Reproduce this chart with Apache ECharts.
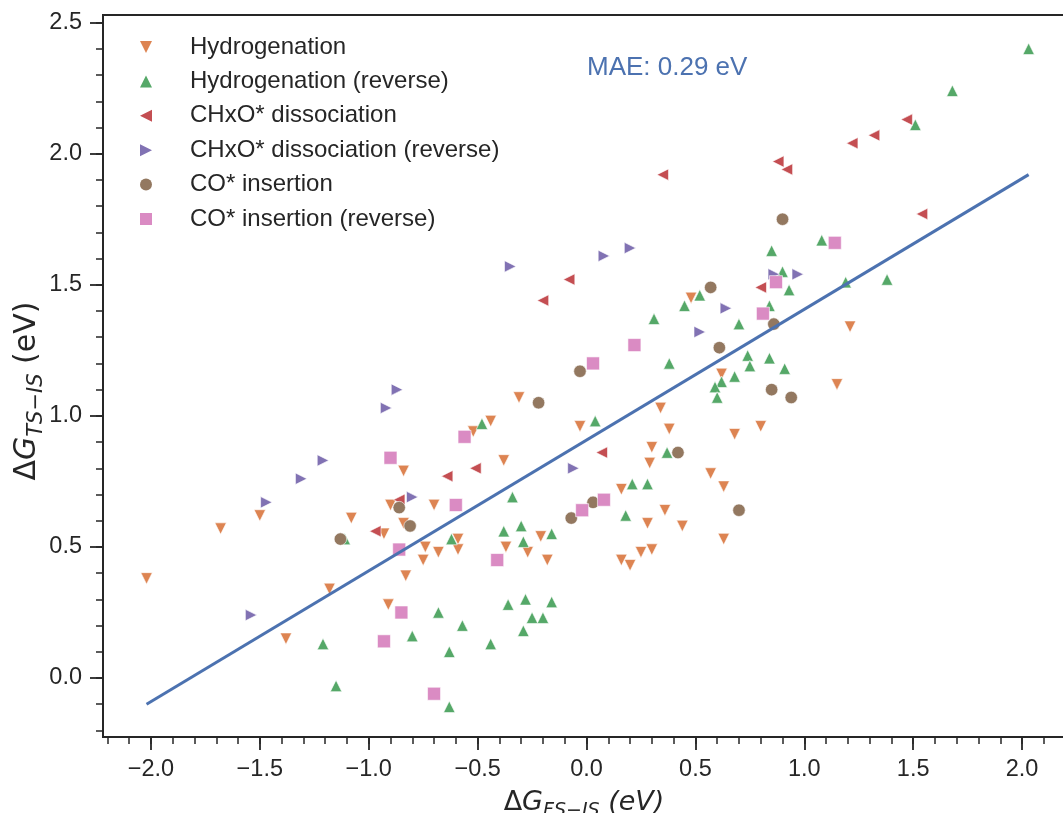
<!DOCTYPE html>
<html>
<head>
<meta charset="utf-8">
<script src="https://cdn.jsdelivr.net/npm/echarts@6/dist/echarts.min.js"></script>
<style>
html,body{margin:0;padding:0;background:#fff;}
#chart{width:1063px;height:813px;}
</style>
</head>
<body>
<div id="chart"></div>
<script>
// ---------------- data ----------------
const hydX = [-2.02,-1.68,-1.50,-1.38,-1.18,-1.08,-0.90,-0.84,-0.93,-0.74,-0.75,-0.83,-0.91,-0.84,-0.70,-0.59,-0.68,-0.59,-0.52,-0.44,-0.38,-0.31,-0.37,-0.27,-0.21,-0.18,-0.03,0.16,0.16,0.20,0.25,0.30,0.28,0.29,0.30,0.34,0.36,0.38,0.44,0.48,0.57,0.62,0.63,0.63,0.68,0.80,1.15,1.21];
const hydY = [0.38,0.57,0.62,0.15,0.34,0.61,0.66,0.59,0.55,0.50,0.45,0.39,0.28,0.79,0.66,0.53,0.48,0.49,0.94,0.98,0.83,1.07,0.50,0.48,0.54,0.45,0.96,0.72,0.45,0.43,0.48,0.49,0.59,0.82,0.88,1.03,0.64,0.95,0.58,1.45,0.78,1.16,0.73,0.53,0.93,0.96,1.12,1.34];

const hydRevX = [2.03,1.68,1.51,1.08,0.85,0.90,0.93,1.19,1.38,0.84,0.52,0.45,0.31,0.70,0.74,0.75,0.84,0.91,0.38,0.62,0.68,0.59,0.60,-0.48,0.04,0.37,0.21,0.28,0.18,-0.34,-0.62,-0.38,-0.30,-0.29,-0.16,-1.11,-1.21,-1.15,-0.80,-0.68,-0.57,-0.63,-0.44,-0.36,-0.28,-0.16,-0.25,-0.20,-0.29,-0.63];
const hydRevY = [2.40,2.24,2.11,1.67,1.63,1.55,1.48,1.51,1.52,1.42,1.46,1.42,1.37,1.35,1.23,1.19,1.22,1.18,1.20,1.13,1.15,1.11,1.07,0.97,0.98,0.86,0.74,0.74,0.62,0.69,0.53,0.56,0.58,0.52,0.55,0.53,0.13,-0.03,0.16,0.25,0.20,0.10,0.13,0.28,0.30,0.29,0.23,0.23,0.18,-0.11];

const dissX = [1.47,1.32,1.22,0.88,0.92,1.54,0.80,0.35,-0.08,-0.20,0.07,-0.51,-0.64,-0.86,-0.97];
const dissY = [2.13,2.07,2.04,1.97,1.94,1.77,1.49,1.92,1.52,1.44,0.86,0.80,0.77,0.68,0.56];

const dissRevX = [-1.54,-1.47,-1.31,-1.21,-0.92,-0.87,-0.80,-0.35,-0.06,0.08,0.20,0.52,0.64,0.86,0.97];
const dissRevY = [0.24,0.67,0.76,0.83,1.03,1.10,0.69,1.57,0.80,1.61,1.64,1.32,1.41,1.54,1.54];

const insX = [-1.13,-0.86,-0.81,-0.22,-0.07,-0.03,0.03,0.42,0.57,0.61,0.70,0.85,0.86,0.90,0.94];
const insY = [0.53,0.65,0.58,1.05,0.61,1.17,0.67,0.86,1.49,1.26,0.64,1.10,1.35,1.75,1.07];

const insRevX = [-0.90,-0.86,-0.85,-0.93,-0.70,-0.60,-0.56,-0.41,-0.02,0.03,0.08,0.22,0.81,0.87,1.14];
const insRevY = [0.84,0.49,0.25,0.14,-0.06,0.66,0.92,0.45,0.64,1.20,0.68,1.27,1.39,1.51,1.66];

const fitX = [-2.02, 2.03];
const fitY = [-0.10, 1.92];

const seriesNames = ['Hydrogenation','Hydrogenation (reverse)','CHxO* dissociation','CHxO* dissociation (reverse)','CO* insertion','CO* insertion (reverse)'];
const maeText = 'MAE: 0.29 eV';

const xMajorTicks = [-2.0,-1.5,-1.0,-0.5,0.0,0.5,1.0,1.5,2.0];
const xTickLabels = ['\u22122.0','\u22121.5','\u22121.0','\u22120.5','0.0','0.5','1.0','1.5','2.0'];
const xMinorTicks = [-2.2,-2.1,-2.0,-1.9,-1.8,-1.7,-1.6,-1.5,-1.4,-1.3,-1.2,-1.1,-1.0,-0.9,-0.8,-0.7,-0.6,-0.5,-0.4,-0.3,-0.2,-0.1,0.0,0.1,0.2,0.3,0.4,0.5,0.6,0.7,0.8,0.9,1.0,1.1,1.2,1.3,1.4,1.5,1.6,1.7,1.8,1.9,2.0,2.1];
const yMajorTicks = [0.0,0.5,1.0,1.5,2.0,2.5];
const yTickLabels = ['0.0','0.5','1.0','1.5','2.0','2.5'];
const yMinorTicks = [-0.2,-0.1,0.0,0.1,0.2,0.3,0.4,0.5,0.6,0.7,0.8,0.9,1.0,1.1,1.2,1.3,1.4,1.5,1.6,1.7,1.8,1.9,2.0,2.1,2.2,2.3,2.4,2.5];

// ---------------- styling ----------------
const colors = ['#DD8452','#55A868','#C44E52','#8172B3','#937860','#DA8BC3'];
const symbols = [
  'path://M-1,-1 L1,-1 L0,1 Z',
  'path://M0,-1 L1,1 L-1,1 Z',
  'path://M-1,0 L1,-1 L1,1 Z',
  'path://M1,0 L-1,-1 L-1,1 Z',
  'circle',
  'rect'
];
const sizes = [11.5, 11.5, 11.5, 11.5, 12.5, 13];
const xs = [hydX, hydRevX, dissX, dissRevX, insX, insRevX];
const ys = [hydY, hydRevY, dissY, dissRevY, insY, insRevY];

const X_MIN = -2.22, X_MAX = 2.197, Y_MIN = -0.225, Y_MAX = 2.529;
const ink = '#262626';

function lookup(ticks, labels) {
  return function (v) {
    const i = ticks.findIndex(t => Math.abs(t - v) < 1e-6);
    return i >= 0 ? labels[i] : '';
  };
}

const scatterSeries = seriesNames.map((name, k) => ({
  name: name,
  type: 'scatter',
  xAxisIndex: 0, yAxisIndex: 0,
  symbol: symbols[k],
  symbolSize: sizes[k],
  itemStyle: { color: colors[k], borderColor: '#ffffff', borderWidth: 0.6, opacity: 1 },
  data: xs[k].map((x, i) => [x, ys[k][i]]),
  z: 3
}));

const chart = echarts.init(document.getElementById('chart'), null, { renderer: 'canvas' });

function mathRich(fs) {
  const sub = Math.round(fs * 0.7);
  return {
    d: { fontFamily: 'DejaVu Sans', fontSize: fs, lineHeight: fs + 10, color: ink },
    g: { fontFamily: 'DejaVu Sans', fontSize: fs, fontStyle: 'italic', lineHeight: fs + 10, color: ink },
    s: { fontFamily: 'DejaVu Sans', fontSize: sub, fontStyle: 'italic', lineHeight: sub, verticalAlign: 'bottom', color: ink },
    ei: { fontFamily: 'DejaVu Sans', fontSize: fs, fontStyle: 'italic', lineHeight: fs + 10, color: ink },
    eu: { fontFamily: 'DejaVu Sans', fontSize: fs, lineHeight: fs + 10, color: ink }
  };
}

const option = {
  animation: false,
  backgroundColor: '#ffffff',
  grid: {
    left: 103, top: 15, right: -2, bottom: 76,
    containLabel: false,
    outerBoundsMode: 'none',
    show: true, borderColor: ink, borderWidth: 2, backgroundColor: 'transparent'
  },
  legend: {
    orient: 'vertical',
    left: 140, top: 35,
    padding: 0,
    itemWidth: 12, itemHeight: 12,
    itemGap: 10.4,
    selectedMode: false,
    textStyle: { fontFamily: 'Liberation Sans', fontSize: 24, color: ink, lineHeight: 24, padding: [0, 0, 0, 33] },
    data: seriesNames.map((n, k) => ({ name: n, icon: symbols[k], itemStyle: { color: colors[k], borderWidth: 0 } }))
  },
  xAxis: [
    {
      type: 'value', min: X_MIN, max: X_MAX, position: 'bottom',
      axisLine: { show: true, onZero: false, lineStyle: { color: ink, width: 2 } },
      axisTick: { show: true, customValues: xMajorTicks, length: 13, lineStyle: { color: ink, width: 1.8 } },
      axisLabel: { show: true, customValues: xMajorTicks, formatter: lookup(xMajorTicks, xTickLabels), margin: 21, fontSize: 23.5, fontFamily: 'Liberation Sans', color: ink },
      splitLine: { show: false },
      name: '{d|\u0394}{g|G}{s|FS\u2212IS}{ei| (eV)}',
      nameLocation: 'middle', nameGap: 47, nameMoveOverlap: false,
      nameTextStyle: { rich: mathRich(27) }
    },
    {
      type: 'value', min: X_MIN, max: X_MAX, position: 'bottom',
      axisLine: { show: false, onZero: false },
      axisTick: { show: true, customValues: xMinorTicks, length: 7, lineStyle: { color: ink, width: 1.5 } },
      axisLabel: { show: false },
      splitLine: { show: false }
    }
  ],
  yAxis: [
    {
      type: 'value', min: Y_MIN, max: Y_MAX, position: 'left',
      axisLine: { show: true, onZero: false, lineStyle: { color: ink, width: 2 } },
      axisTick: { show: true, customValues: yMajorTicks, length: 13, lineStyle: { color: ink, width: 1.8 } },
      axisLabel: { show: true, customValues: yMajorTicks, formatter: lookup(yMajorTicks, yTickLabels), margin: 21, fontSize: 23.5, fontFamily: 'Liberation Sans', color: ink },
      splitLine: { show: false },
      name: '{d|\u0394}{g|G}{s|TS\u2212IS}{eu| (eV)}',
      nameLocation: 'middle', nameGap: 56, nameRotate: 90, nameMoveOverlap: false,
      nameTextStyle: { rich: mathRich(30), padding: [0, 30, 0, 0] }
    },
    {
      type: 'value', min: Y_MIN, max: Y_MAX, position: 'left',
      axisLine: { show: false, onZero: false },
      axisTick: { show: true, customValues: yMinorTicks, length: 7, lineStyle: { color: ink, width: 1.5 } },
      axisLabel: { show: false },
      splitLine: { show: false }
    }
  ],
  graphic: [
    {
      type: 'text', x: 587, y: 68,
      style: { text: maeText, fill: '#4C72B0', fontFamily: 'Liberation Sans', fontSize: 26, verticalAlign: 'middle', align: 'left' },
      z: 10
    }
  ],
  series: scatterSeries.concat([
    {
      name: 'fit', type: 'line', xAxisIndex: 0, yAxisIndex: 0,
      data: fitX.map((x, i) => [x, fitY[i]]),
      symbol: 'none',
      lineStyle: { color: '#4C72B0', width: 3 },
      z: 4, silent: true
    }
  ])
};
chart.setOption(option);
</script>
</body>
</html>
